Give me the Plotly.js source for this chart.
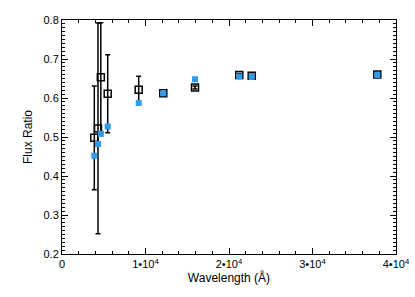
<!DOCTYPE html>
<html><head><meta charset="utf-8">
<script src="https://cdn.plot.ly/plotly-3.0.1.min.js"></script>
<style>html,body{margin:0;padding:0;background:#fff}#c{width:415px;height:297px}</style>
</head><body><div id="c"></div>
<script>
var wavelength = [3870, 4311, 4650, 5473, 9185, 12130, 15928, 21234, 22719, 37760];
var ratioObs = [0.498, 0.522, 0.653, 0.611, 0.621, 0.612, 0.627, 0.659, 0.657, 0.660];
var ratioErr = [0.133, 0.27, 0.14, 0.10, 0.035, 0.004, 0.004, 0.004, 0.004, 0.004];
var ratioModel = [0.452, 0.482, 0.508, 0.527, 0.587, 0.612, 0.648, 0.655, 0.654, 0.659];
var xTickVals = [0, 10000, 20000, 30000, 40000];
var xTickText = ['0', '1•10<sup>4</sup>', '2•10<sup>4</sup>', '3•10<sup>4</sup>', '4•10<sup>4</sup>'];

var font = {family: 'Liberation Sans, Arial, sans-serif', size: 11, color: '#000'};
var titleFont = {family: 'Liberation Sans, Arial, sans-serif', size: 12, color: '#000'};
var traces = [
  {x: wavelength, y: ratioObs, type: 'scatter', mode: 'markers',
   error_y: {type: 'data', array: ratioErr, visible: true, color: '#000', thickness: 1.5, width: 2.5},
   marker: {symbol: 'square-open', size: 7, color: '#000', line: {width: 1.5, color: '#000'}},
   cliponaxis: true},
  {x: wavelength, y: ratioModel, type: 'scatter', mode: 'markers',
   marker: {symbol: 'square', size: 6, color: '#2f9bea', line: {width: 0}}}
];
var axisBase = {showline: true, linecolor: '#000', linewidth: 1, mirror: 'ticks', ticks: 'inside',
  ticklen: 6, tickwidth: 1, tickcolor: '#000', showgrid: false, zeroline: false, tickfont: font};
var layout = {
  width: 415, height: 297, showlegend: false,
  margin: {l: 62, r: 19, t: 20, b: 43},
  paper_bgcolor: '#fff', plot_bgcolor: '#fff', font: font,
  xaxis: Object.assign({}, axisBase, {range: [0, 40000], tickvals: xTickVals, ticktext: xTickText,
    minor: {dtick: 2000, ticklen: 3, tickcolor: '#000', ticks: 'inside'},
    title: {text: 'Wavelength (Å)', font: titleFont, standoff: 2}}),
  yaxis: Object.assign({}, axisBase, {range: [0.2, 0.8], dtick: 0.1, tickformat: '.1f',
    minor: {dtick: 0.01, ticklen: 3, tickcolor: '#000', ticks: 'inside'},
    title: {text: 'Flux Ratio', font: titleFont, standoff: 8}})
};
Plotly.newPlot('c', traces, layout, {displayModeBar: false, staticPlot: true});
</script></body></html>
